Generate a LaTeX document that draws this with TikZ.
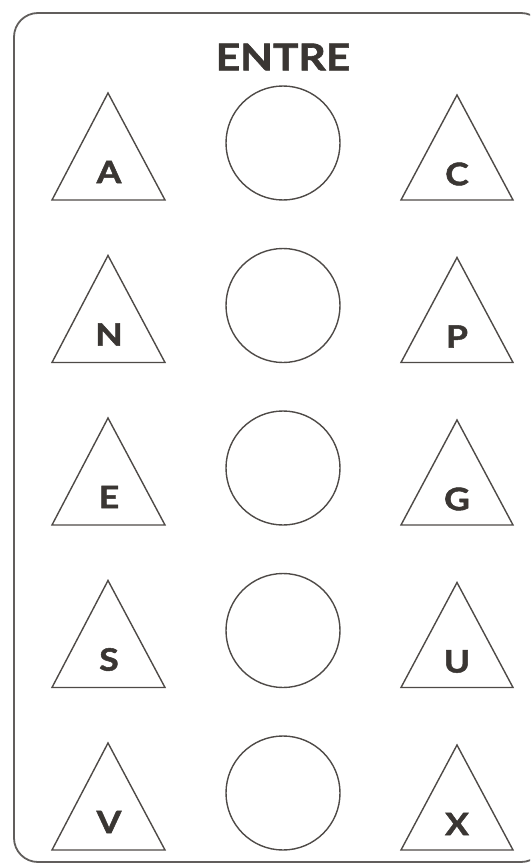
\documentclass[tikz,border=0pt]{standalone}
\usepackage{fontspec}
\setmainfont{Lato}
\newfontfamily\heavyfont{Lato}[BoldFeatures={FakeBold=1.6,FakeStretch=1.15}]
\definecolor{ink}{HTML}{3A3633}
\tikzset{
  frameline/.style={draw=ink!80, line width=1.8pt, rounded corners=24pt},
  shapeline/.style={draw=ink!90, line width=1.4pt},
  letter/.style={font=\heavyfont\fontsize{31}{31}\selectfont\bfseries, text=ink, inner sep=0pt},
  titletext/.style={font=\heavyfont\fontsize{37}{37}\selectfont\bfseries, text=ink, inner sep=0pt},
}
\begin{document}
\begin{tikzpicture}[x=1pt,y=-1pt]
  \useasboundingbox (0,0) rectangle (530,864);
  % card
  \begin{scope}
    \clip (0,0) rectangle (530,864);
    \draw[frameline] (14,13) rectangle (545,862);
  \end{scope}
  \node[titletext] (title) at (283,57) {ENTRE};
  % rows: triangle, circle, triangle
  \foreach \l/\r [count=\i] in {A/C,N/P,E/G,S/U,V/X}{
    \pgfmathsetmacro{\a}{93+(\i-1)*162.5}
    \draw[shapeline] (108,\a) -- (165,\a+107) -- (52,\a+107) -- cycle;
    \node[letter] (l\i) at (109,\a+79) {\l};
    \node[shapeline, circle, minimum size=114pt, inner sep=0pt] (c\i) at (283,\a+50) {};
    \draw[shapeline] (457,\a+2) -- (513,\a+107) -- (401,\a+107) -- cycle;
    \node[letter] (r\i) at (457,\a+81) {\r};
  }
\end{tikzpicture}
\end{document}
